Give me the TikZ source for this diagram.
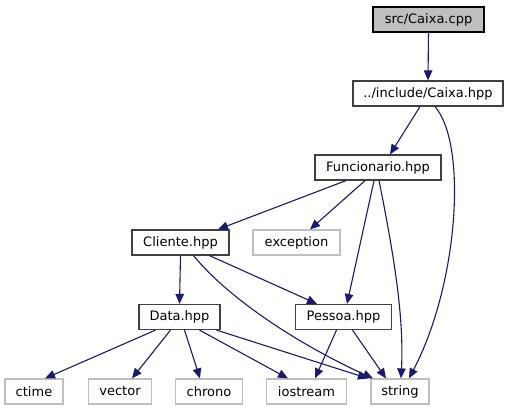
\documentclass[tikz,border=0pt]{standalone}
\usepackage{fontspec}
\setmainfont{DejaVu Sans}
\usetikzlibrary{arrows.meta}
\definecolor{edgec}{HTML}{191970}
\definecolor{g75}{HTML}{BFBFBF}
\definecolor{g25}{HTML}{404040}
\begin{document}
\begin{tikzpicture}[x=1pt,y=-1pt,
  box/.style={draw=g25,line width=1.2pt,minimum height=25pt,inner sep=0pt,font=\fontsize{13}{15}\selectfont,text=black},
  rootbox/.style={box,draw=black,fill=g75},
  extbox/.style={box,draw=g75},
  edge/.style={draw=edgec,line width=1.1pt,-{Triangle[length=10pt,width=8.5pt]}}]
\useasboundingbox (0,0) rectangle (510,411);
\node[rootbox,minimum width=111pt] (cpp) at (428.5,19.5) {src/Caixa.cpp};
\node[box,minimum width=150pt] (caixah) at (428,93.5) {../include/Caixa.hpp};
\node[box,minimum width=126pt] (func) at (378,167.5) {Funcionario.hpp};
\node[box,minimum width=97pt] (cliente) at (180.5,242.5) {Cliente.hpp};
\node[extbox,minimum width=87pt] (exception) at (296.5,242.5) {exception};
\node[box,minimum width=81pt] (data) at (179.5,317) {Data.hpp};
\node[box,minimum width=96pt] (pessoa) at (343.5,317) {Pessoa.hpp};
\node[extbox,minimum width=58pt] (ctime) at (34,391.5) {ctime};
\node[extbox,minimum width=63pt] (vector) at (120,391.5) {vector};
\node[extbox,minimum width=67pt] (chrono) at (209,391.5) {chrono};
\node[extbox,minimum width=80pt] (iostream) at (306.5,391.5) {iostream};
\node[extbox,minimum width=58pt] (string) at (400,391.5) {string};

\draw[edge] (cpp.south) -- (caixah.north);
\draw[edge] ([xshift=-8pt]caixah.south) -- ([xshift=12pt]func.north);
\draw[edge] ([xshift=7pt]caixah.south) .. controls (468,145) and (458,285) .. ([xshift=9pt]string.north);
\draw[edge] ([xshift=-32pt]func.south) -- ([xshift=37.5pt]cliente.north);
\draw[edge] ([xshift=-13pt]func.south) -- ([xshift=13.5pt]exception.north);
\draw[edge] ([xshift=-4pt]func.south) -- ([xshift=3.5pt]pessoa.north);
\draw[edge] ([xshift=1pt]func.south) .. controls (395,260) and (404,320) .. ([xshift=1pt]string.north);
\draw[edge] (cliente.south) -- (data.north);
\draw[edge] ([xshift=29pt]cliente.south) -- ([xshift=-26.5pt]pessoa.north);
\draw[edge] ([xshift=13pt]cliente.south) .. controls (230,300) and (300,345) .. ([xshift=-27pt]string.north);
\draw[edge] ([xshift=-24pt]data.south) -- ([xshift=11pt]ctime.north);
\draw[edge] ([xshift=-9pt]data.south) -- ([xshift=12pt]vector.north);
\draw[edge] ([xshift=5pt]data.south) -- ([xshift=-9pt]chrono.north);
\draw[edge] ([xshift=20pt]data.south) -- ([xshift=-18.5pt]iostream.north);
\draw[edge] ([xshift=37pt]data.south) -- ([xshift=-32pt]string.north);
\draw[edge] ([xshift=-7pt]pessoa.south) -- ([xshift=8.5pt]iostream.north);
\draw[edge] ([xshift=9pt]pessoa.south) -- ([xshift=-14pt]string.north);
\end{tikzpicture}
\end{document}
